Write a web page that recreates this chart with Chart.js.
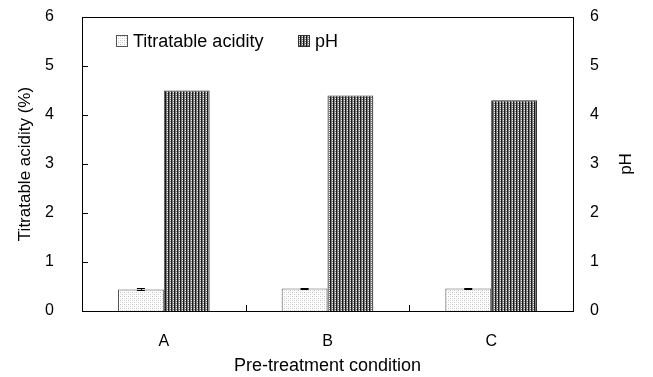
<!DOCTYPE html>
<html>
<head>
<meta charset="utf-8">
<script src="https://cdn.jsdelivr.net/npm/chart.js@4"></script>
<style>
  html, body { margin: 0; padding: 0; background: #fff; }
  #wrap { width: 653px; height: 377px; }
</style>
</head>
<body>
<div id="wrap"><canvas id="myChart" width="653" height="377"></canvas></div>
<script>
// data
var condiciones = ['A', 'B', 'C'];
var acidez = [0.44, 0.46, 0.46];
var acidezError = [0.02, 0.01, 0.01];
var ph = [4.5, 4.4, 4.3];
var ticksY = [0, 1, 2, 3, 4, 5, 6];

var fuente = 'Liberation Sans, Arial, sans-serif';

function patron(w, h, pintar) {
    var c = document.createElement('canvas');
    c.width = w; c.height = h;
    var g = c.getContext('2d');
    pintar(g);
    return document.getElementById('myChart').getContext('2d').createPattern(c, 'repeat');
}

// fine light stipple
var patronAcidez = patron(4, 4, function (g) {
    g.fillStyle = '#ffffff'; g.fillRect(0, 0, 4, 4);
    g.fillStyle = '#c4c4c4';
    g.fillRect(0, 0, 1, 1); g.fillRect(2, 2, 1, 1);
    g.fillStyle = '#e2e2e2';
    g.fillRect(2, 0, 1, 1); g.fillRect(0, 2, 1, 1);
});

// dark grid
var patronPh = patron(3, 2, function (g) {
    g.fillStyle = '#7a7a7a'; g.fillRect(0, 0, 3, 2);
    g.fillStyle = '#1a1a1a'; g.fillRect(0, 0, 1, 2);
    g.fillStyle = '#f0f0f0'; g.fillRect(2, 0, 1, 1);
});

// keep the plot box where the figure has it
function ajusteVertical(ancho) {
    return function (s) {
        s.width = ancho;
        s.paddingTop = 17;
        s.paddingBottom = 0;
    };
}

// box, inner ticks, error bars, right title and legend
const marco = {
    id: 'marco',
    afterDatasetsDraw(chart) {
        var ctx = chart.ctx;
        var a = chart.chartArea;
        var y = chart.scales.y;
        var x = chart.scales.x;
        ctx.save();
        ctx.strokeStyle = '#000';
        ctx.lineWidth = 1;

        // error bars
        var meta = chart.getDatasetMeta(0);
        meta.data.forEach(function (bar, i) {
            var yt = Math.round(y.getPixelForValue(acidez[i] + acidezError[i])) + 0.5;
            var yb = Math.round(y.getPixelForValue(acidez[i] - acidezError[i])) + 0.5;
            ctx.beginPath();
            ctx.moveTo(bar.x - 4, yt); ctx.lineTo(bar.x + 4, yt);
            ctx.moveTo(bar.x - 4, yb); ctx.lineTo(bar.x + 4, yb);
            ctx.moveTo(bar.x + 0.5, yt); ctx.lineTo(bar.x + 0.5, yb);
            ctx.stroke();
        });

        ctx.strokeRect(Math.round(a.left) + 0.5, Math.round(a.top) + 0.5,
            Math.round(a.right - a.left), Math.round(a.bottom - a.top));

        ctx.beginPath();
        ticksY.forEach(function (v) {
            var py = Math.round(y.getPixelForValue(v)) + 0.5;
            ctx.moveTo(a.left, py); ctx.lineTo(a.left + 6, py);
        });
        for (var i = 1; i < condiciones.length; i++) {
            var px = Math.round((x.getPixelForValue(i - 1) + x.getPixelForValue(i)) / 2) + 0.5;
            ctx.moveTo(px, a.bottom); ctx.lineTo(px, a.bottom - 6);
        }
        ctx.stroke();

        // right axis title, read bottom to top
        ctx.save();
        ctx.translate(626, (a.top + a.bottom) / 2);
        ctx.rotate(-Math.PI / 2);
        ctx.font = '17px ' + fuente;
        ctx.textAlign = 'center';
        ctx.textBaseline = 'middle';
        ctx.fillStyle = '#000';
        ctx.fillText('pH', 0, 0);
        ctx.restore();

        // legend
        var items = [
            { texto: 'Titratable acidity', fondo: patronAcidez, borde: '#555', x: 116 },
            { texto: 'pH', fondo: patronPh, borde: '#333', x: 298 }
        ];
        ctx.font = '18px ' + fuente;
        ctx.textBaseline = 'middle';
        items.forEach(function (it) {
            ctx.fillStyle = it.fondo;
            ctx.fillRect(it.x, 35, 12, 12);
            ctx.strokeStyle = it.borde;
            ctx.strokeRect(it.x + 0.5, 35.5, 11, 11);
            ctx.fillStyle = '#000';
            ctx.fillText(it.texto, it.x + 17, 42);
        });
        ctx.restore();
    }
};

new Chart(document.getElementById('myChart'), {
    type: 'bar',
    data: {
        labels: condiciones,
        datasets: [{
            label: 'Titratable acidity',
            data: acidez,
            yAxisID: 'y',
            backgroundColor: patronAcidez,
            borderColor: '#555',
            borderWidth: 1,
            categoryPercentage: 0.56,
            barPercentage: 1
        }, {
            label: 'pH',
            data: ph,
            yAxisID: 'y1',
            backgroundColor: patronPh,
            borderColor: '#333',
            borderWidth: 1,
            categoryPercentage: 0.56,
            barPercentage: 1
        }]
    },
    options: {
        responsive: false,
        animation: false,
        layout: { padding: 0 },
        plugins: { legend: { display: false }, tooltip: { enabled: false } },
        scales: {
            x: {
                grid: { display: false, drawTicks: false },
                border: { display: false },
                ticks: { color: '#000', font: { family: fuente, size: 16 }, padding: 21 },
                title: { display: true, text: 'Pre-treatment condition', color: '#000',
                    font: { family: fuente, size: 18 }, padding: { top: 0, bottom: 0 } },
                afterFit: function (s) { s.height = 66; }
            },
            y: {
                position: 'left',
                min: 0, max: 6,
                grid: { display: false, drawTicks: false },
                border: { display: false },
                ticks: { stepSize: 1, color: '#000', font: { family: fuente, size: 16 }, padding: 28 },
                title: { display: true, text: 'Titratable acidity (%)', color: '#000',
                    font: { family: fuente, size: 17 }, padding: { top: 15, bottom: 0 } },
                afterFit: ajusteVertical(82)
            },
            y1: {
                position: 'right',
                min: 0, max: 6,
                grid: { display: false, drawTicks: false },
                border: { display: false },
                ticks: { stepSize: 1, color: '#000', font: { family: fuente, size: 16 }, padding: 17 },
                afterFit: ajusteVertical(80)
            }
        }
    },
    plugins: [marco]
});
</script>
</body>
</html>
